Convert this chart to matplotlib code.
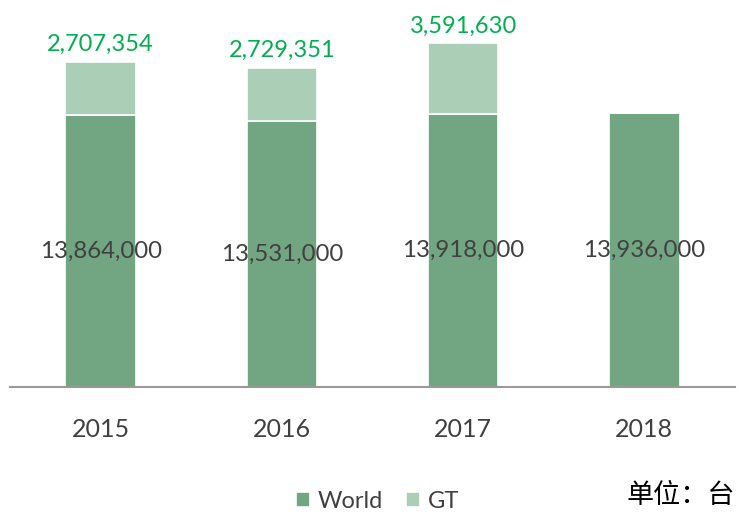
import matplotlib.pyplot as plt
import numpy as np

years = ['2015', '2016', '2017', '2018']
world = [13864000, 13531000, 13918000, 13936000]
gt = [2707354, 2729351, 3591630, 0]

plt.rcParams['font.family'] = ['Lato', 'Noto Sans CJK SC', 'DejaVu Sans']

dark = '#72A683'
light = '#AACFB6'

fig = plt.figure(figsize=(7.4, 5.14), dpi=100)
ax = fig.add_axes([10 / 740, 127 / 514, 725 / 740, 367 / 514])

x = np.arange(len(years))
w = 0.39
ax.bar(x, world, w, color=dark, edgecolor='white', linewidth=1.2, label='World')
ax.bar(x, gt, w, bottom=world, color=light, edgecolor='white', linewidth=1.2, label='GT')

for i in range(len(years)):
    ax.text(x[i], world[i] / 2, format(world[i], ','), ha='center', va='center',
            fontsize=17.3, color='#404040')
    if gt[i] > 0:
        ax.text(x[i], world[i] + gt[i] + 350000, format(gt[i], ','), ha='center', va='bottom',
                fontsize=17, color='#00B050')

ax.set_xlim(-0.5, 3.5)
ax.set_ylim(0, 18.7e6)
ax.set_xticks(x)
ax.set_xticklabels(years, fontsize=18, color='#404040')
ax.tick_params(axis='x', length=0, pad=22)
ax.set_yticks([])
for s in ['top', 'right', 'left']:
    ax.spines[s].set_visible(False)
ax.spines['bottom'].set_color('#999999')
ax.spines['bottom'].set_linewidth(1.5)

fig.legend(loc='center', bbox_to_anchor=(0.51, 0.025), ncol=2, frameon=False,
           fontsize=17, handlelength=0.6, handleheight=0.6, handletextpad=0.3,
           columnspacing=1.0, labelcolor='#404040')
fig.text(0.993, 0.037, '单位：台', ha='right', va='center', fontsize=19.5, color='#000000')

plt.savefig('out.png', dpi=100)
